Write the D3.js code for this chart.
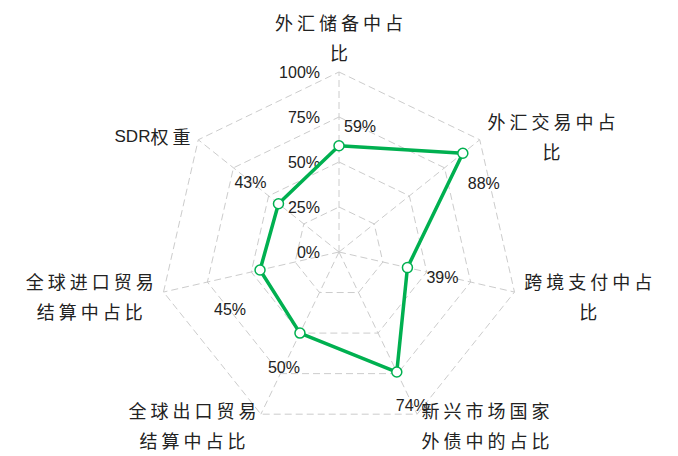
<!DOCTYPE html>
<html>
<head>
<meta charset="utf-8">
<script src="https://cdn.jsdelivr.net/npm/d3@7/dist/d3.min.js"></script>
<style>
  html, body { margin: 0; padding: 0; background: #fff; }
  svg { display: block; }
</style>
</head>
<body>
<svg id="chart" width="678" height="456"></svg>
<script>
// ---- data ----
const categories = ["外汇储备中占比", "外汇交易中占比", "跨境支付中占比", "新兴市场国家外债中的占比", "全球出口贸易结算中占比", "全球进口贸易结算中占比", "SDR权重"];
const values = [59, 88, 39, 74, 50, 45, 43];
const tickValues = [0, 25, 50, 75, 100];
const tickLabels = ["0%", "25%", "50%", "75%", "100%"];

// ---- layout (not data) ----
const cx = 339, cy = 252, R = 180;
const labelNudge = [[21, -19], [21, 30], [35, 10], [15, 33], [-16, 34], [-30, 39], [-28, -21]];
const green = "#00b050";
const gridColor = "#cccccc";
const cjkFont = "'Noto Sans CJK SC', 'Noto Sans', sans-serif";
const svg = d3.select("#chart");

// detect a narrow latin face
function hasFont(name) {
  const t = svg.append("text").attr("font-size", 40).attr("font-family", "monospace").text("100%SDRmmwW");
  const w0 = t.node().getComputedTextLength();
  t.attr("font-family", "'" + name + "', monospace");
  const w1 = t.node().getComputedTextLength();
  t.remove();
  return Math.abs(w1 - w0) > 0.5;
}
const narrow = hasFont("Liberation Sans Narrow");
const numFont = narrow ? "'Liberation Sans Narrow', 'Liberation Sans', sans-serif" : "'Liberation Sans', Arial, sans-serif";
const numSize = narrow ? 17.5 : 16;
const latinNameFont = narrow ? "'Liberation Sans Narrow', 'Liberation Sans', sans-serif" : "'Liberation Sans', sans-serif";
const latinNameSize = narrow ? 20 : 17;

const n = categories.length;
const r = d3.scaleLinear().domain([0, 100]).range([0, R]);
const angle = d3.scaleLinear().domain([0, n]).range([0, 2 * Math.PI]);
const px = (i, v) => cx + r(v) * Math.sin(angle(i));
const py = (i, v) => cy - r(v) * Math.cos(angle(i));

const g = svg.append("g");

// grid rings
tickValues.filter(t => t > 0).forEach(t => {
  const pts = d3.range(n).map(i => [px(i, t), py(i, t)]);
  g.append("path")
    .attr("d", d3.line().curve(d3.curveLinearClosed)(pts))
    .attr("fill", "none")
    .attr("stroke", gridColor)
    .attr("stroke-width", 1)
    .attr("stroke-dasharray", "7,4");
});
// spokes
d3.range(n).forEach(i => {
  g.append("line")
    .attr("x1", cx).attr("y1", cy)
    .attr("x2", px(i, 100)).attr("y2", py(i, 100))
    .attr("stroke", gridColor)
    .attr("stroke-width", 1)
    .attr("stroke-dasharray", "7,4");
});

// tick labels
tickValues.forEach((t, k) => {
  g.append("text")
    .attr("x", cx - 19)
    .attr("y", cy - r(t))
    .attr("text-anchor", "end")
    .attr("dominant-baseline", "central")
    .attr("font-family", numFont)
    .attr("font-size", numSize)
    .attr("fill", "#222")
    .text(tickLabels[k]);
});

// series
const pts = values.map((v, i) => [px(i, v), py(i, v)]);
g.append("path")
  .attr("d", d3.line().curve(d3.curveLinearClosed)(pts))
  .attr("fill", "none")
  .attr("stroke", green)
  .attr("stroke-width", 3.5)
  .attr("stroke-linejoin", "round");
g.selectAll("circle.pt").data(values).enter().append("circle")
  .attr("class", "pt")
  .attr("cx", (v, i) => px(i, v))
  .attr("cy", (v, i) => py(i, v))
  .attr("r", 5)
  .attr("fill", "#fff")
  .attr("stroke", green)
  .attr("stroke-width", 1.5);

// value labels
values.forEach((v, i) => {
  g.append("text")
    .attr("x", px(i, v) + labelNudge[i][0])
    .attr("y", py(i, v) + labelNudge[i][1])
    .attr("text-anchor", "middle")
    .attr("dominant-baseline", "central")
    .attr("font-family", numFont)
    .attr("font-size", numSize)
    .attr("fill", "#222")
    .text(v + "%");
});

// axis names
function wrap(s, k) {
  const out = [];
  const chars = Array.from(s);
  for (let j = 0; j < chars.length; j += k) out.push(chars.slice(j, j + k).join(""));
  return out;
}
function runs(s) {
  const out = [];
  Array.from(s).forEach(ch => {
    const latin = /[\x00-\x7f]/.test(ch);
    if (out.length && out[out.length - 1].latin === latin) out[out.length - 1].t += ch;
    else out.push({ latin, t: ch });
  });
  return out;
}
const nameR = 190, lineH = 30, spacing = 4;
categories.forEach((c, i) => {
  const a = angle(i);
  const s = Math.sin(a), co = Math.cos(a);
  const ax = cx + nameR * s, ay = cy - nameR * co;
  const lines = wrap(c, 6);
  const texts = lines.map(l => {
    const t = g.append("text")
      .attr("fill", "#222")
      .attr("text-anchor", "middle")
      .attr("dominant-baseline", "central");
    runs(l).forEach(rn => {
      const ts = t.append("tspan").text(rn.t);
      if (rn.latin) ts.attr("font-family", latinNameFont).attr("font-size", latinNameSize).attr("letter-spacing", "0px");
      else ts.attr("font-family", cjkFont).attr("font-size", 18).attr("letter-spacing", spacing + "px");
    });
    return t;
  });
  const widths = texts.map(t => t.node().getComputedTextLength() - spacing);
  const bw = d3.max(widths);
  let bx;
  if (Math.abs(s) < 0.05) bx = ax;
  else if (s > 0) bx = ax + bw / 2;
  else bx = ax - bw / 2;
  let y0;
  if (co > 0.95) y0 = ay - 10 - (lines.length - 1) * lineH;
  else y0 = ay - (lines.length - 1) * lineH / 2 + 2;
  texts.forEach((t, k) => t.attr("x", bx + spacing / 2).attr("y", y0 + k * lineH));
});
</script>
</body>
</html>
